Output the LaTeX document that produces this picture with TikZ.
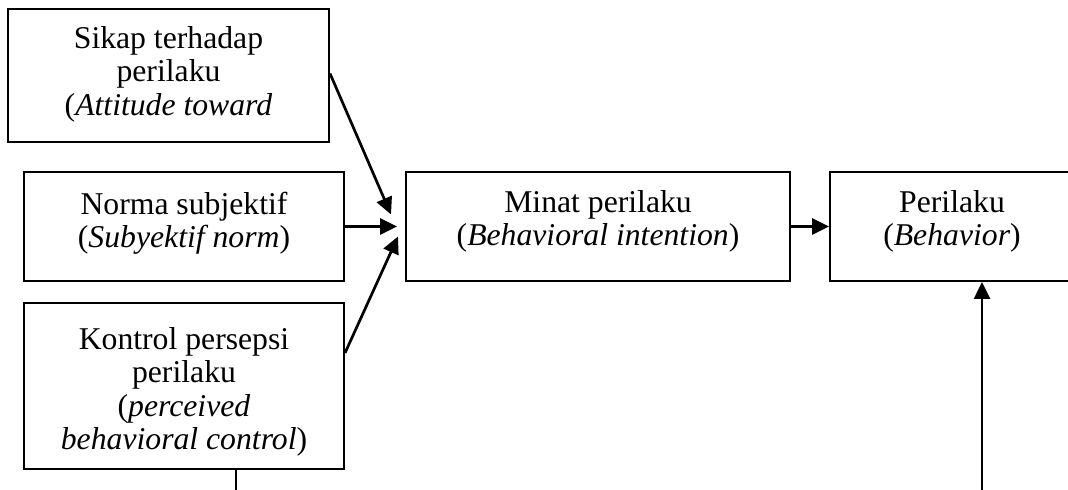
\documentclass[tikz,border=0pt]{standalone}
\usepackage{fontspec}
\setmainfont{Liberation Serif}
\usetikzlibrary{arrows.meta,calc}
\begin{document}
\begin{tikzpicture}[x=0.5pt,y=-0.5pt,
  boxnode/.style={draw=black,line width=1pt,rectangle,inner sep=0pt},
  txt/.style={align=center,inner sep=0pt,anchor=north,font=\fontsize{15.85pt}{16.6pt}\selectfont},
  conn/.style={line width=1.35pt,-{Triangle[length=8.5pt,width=8pt]}},
  plainline/.style={line width=1.35pt}]
\useasboundingbox (0,0) rectangle (1068,490);
\node[boxnode,minimum width=160.5pt,minimum height=66.5pt] (sikap) at (168.5,75.5) {};
\node[boxnode,minimum width=160pt,minimum height=54.5pt] (norma) at (184,226.5) {};
\node[boxnode,minimum width=160pt,minimum height=83pt] (kontrol) at (184,386) {};
\node[boxnode,minimum width=192pt,minimum height=54.5pt] (minat) at (598,226.5) {};
\node[boxnode,minimum width=125pt,minimum height=54.5pt] (perilaku) at (955,226.5) {};
\node[txt] (sikapt) at (168.5,26.3) {Sikap terhadap\\perilaku\\(\textit{Attitude toward}};
\node[txt] (normat) at (184,191.3) {Norma subjektif\\(\textit{Subyektif norm})};
\node[txt] (kontrolt) at (184,327.3) {Kontrol persepsi\\perilaku\\(\textit{perceived}\\\textit{behavioral control})};
\node[txt] (minatt) at (598,190.3) {Minat perilaku\\(\textit{Behavioral intention})};
\node[txt] (perilakut) at (952,190.3) {Perilaku\\(\textit{Behavior})};
\coordinate (k1) at (236,495);
\coordinate (p1) at (982,495);
\draw[conn] ($(sikap.east)+(0,-2)$) -- ($(minat.west)+(-14,-12)$);
\draw[conn] (norma.east) -- ($(minat.west)+(-8,0)$);
\draw[conn] ($(kontrol.east)+(0,-33)$) -- ($(minat.west)+(-7,10)$);
\draw[conn] (minat.east) -- (perilaku.west);
\draw[conn] (p1) -- (p1 |- perilaku.south);
\draw[plainline] (kontrol.south -| k1) -- (k1);
\end{tikzpicture}
\end{document}
